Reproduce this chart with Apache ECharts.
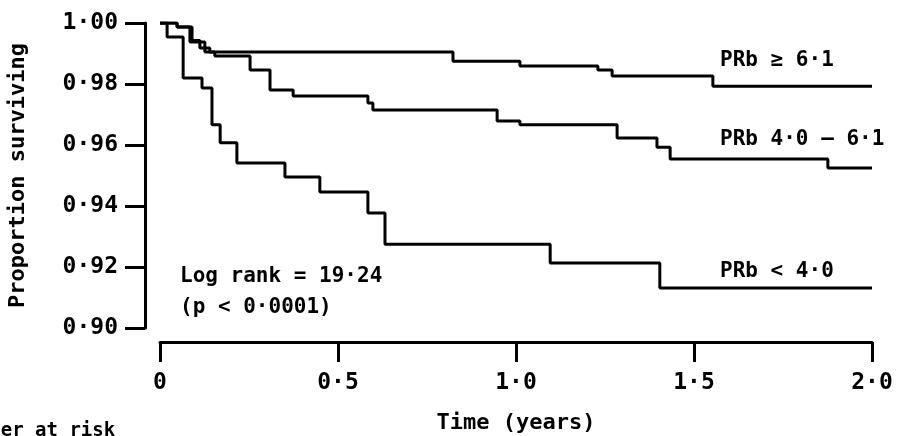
<!DOCTYPE html>
<html>
<head>
<meta charset="utf-8">
<script src="https://cdn.jsdelivr.net/npm/echarts@6/dist/echarts.min.js"></script>
<style>
  html, body { margin: 0; padding: 0; background: #fff; }
  #chart { width: 901px; height: 436px; }
</style>
</head>
<body>
<div id="chart"></div>
<script>
// step curves: [time in years, proportion surviving]
var highGroup = [[0, 1.000], [0.048, 0.9987], [0.090, 0.9943], [0.112, 0.9918], [0.140, 0.9905],
  [0.823, 0.9875], [1.011, 0.9859], [1.230, 0.9846], [1.270, 0.9826], [1.553, 0.9793], [2.0, 0.9793]];
var midGroup = [[0, 1.000], [0.048, 0.9987], [0.084, 0.9938], [0.126, 0.9905], [0.154, 0.9892],
  [0.253, 0.9846], [0.309, 0.9780], [0.374, 0.9761], [0.584, 0.9738], [0.598, 0.9715],
  [0.947, 0.9679], [1.011, 0.9666], [1.284, 0.9623], [1.396, 0.9593], [1.433, 0.9554],
  [1.876, 0.9525], [2.0, 0.9525]];
var lowGroup = [[0, 1.000], [0.020, 0.9954], [0.065, 0.9820], [0.118, 0.9787], [0.146, 0.9666],
  [0.169, 0.9607], [0.216, 0.9541], [0.351, 0.9495], [0.449, 0.9446], [0.584, 0.9377],
  [0.632, 0.9275], [1.096, 0.9213], [1.404, 0.9131], [2.0, 0.9131]];
var groupNames = ['PRb ≥ 6·1', 'PRb 4·0 – 6·1', 'PRb < 4·0'];

var font = '"DejaVu Sans Mono", monospace';
var chart = echarts.init(document.getElementById('chart'));

function curve(name, data) {
  return {
    name: name,
    type: 'line',
    step: 'end',
    data: data,
    symbol: 'none',
    lineStyle: { color: '#000', width: 3 },
    animation: false
  };
}

var option = {
  backgroundColor: '#fff',
  grid: { left: 160, right: 29, top: 23, bottom: 108, outerBoundsMode: 'none' },
  xAxis: {
    type: 'value',
    min: 0,
    max: 2,
    interval: 0.5,
    offset: 14,
    name: 'Time (years)',
    nameLocation: 'middle',
    nameGap: 70,
    nameTextStyle: { color: '#000', fontFamily: font, fontWeight: 'bold', fontSize: 22 },
    axisLine: { onZero: false, lineStyle: { color: '#000', width: 3 } },
    axisTick: { length: 20, lineStyle: { color: '#000', width: 3 } },
    splitLine: { show: false },
    axisLabel: {
      margin: 30,
      color: '#000',
      fontFamily: font,
      fontWeight: 'bold',
      fontSize: 23,
      formatter: function (v) { return v === 0 ? '0' : v.toFixed(1).replace('.', '·'); }
    }
  },
  yAxis: {
    type: 'value',
    min: 0.9,
    max: 1.0,
    interval: 0.02,
    offset: 15,
    name: 'Proportion surviving',
    nameLocation: 'middle',
    nameGap: 116,
    nameTextStyle: { color: '#000', fontFamily: font, fontWeight: 'bold', fontSize: 22 },
    axisLine: { show: true, onZero: false, lineStyle: { color: '#000', width: 3 } },
    axisTick: { show: true, length: 20, lineStyle: { color: '#000', width: 3 } },
    splitLine: { show: false },
    axisLabel: {
      margin: 27,
      color: '#000',
      fontFamily: font,
      fontWeight: 'bold',
      fontSize: 23,
      formatter: function (v) { return v.toFixed(2).replace('.', '·'); }
    }
  },
  series: [
    curve(groupNames[0], highGroup),
    curve(groupNames[1], midGroup),
    curve(groupNames[2], lowGroup)
  ],
  graphic: [
    { type: 'text', left: 720, top: 50, style: { text: groupNames[0], fill: '#000', font: 'bold 21px ' + font } },
    { type: 'text', left: 720, top: 129, style: { text: groupNames[1], fill: '#000', font: 'bold 21px ' + font } },
    { type: 'text', left: 720, top: 261, style: { text: groupNames[2], fill: '#000', font: 'bold 21px ' + font } },
    { type: 'text', left: 180, top: 266, style: { text: 'Log rank = 19·24', fill: '#000', font: 'bold 21px ' + font } },
    { type: 'text', left: 180, top: 297, style: { text: '(p < 0·0001)', fill: '#000', font: 'bold 21px ' + font } },
    { type: 'text', left: -45, top: 422, style: { text: 'Number at risk', fill: '#000', font: 'bold 19px ' + font } }
  ]
};
chart.setOption(option);
</script>
</body>
</html>
